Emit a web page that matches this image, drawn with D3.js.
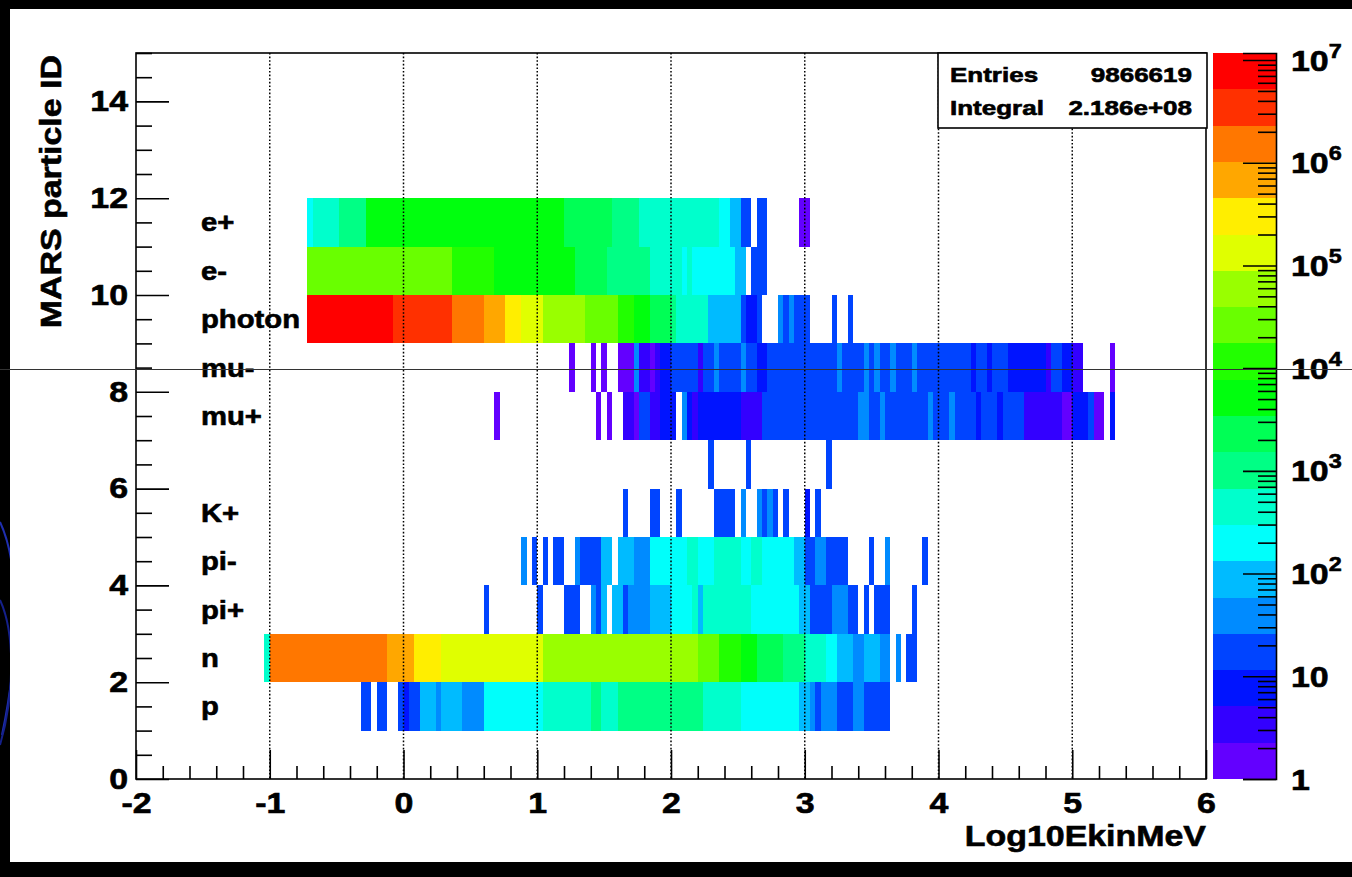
<!DOCTYPE html>
<html>
<head>
<meta charset="utf-8">
<script src="https://cdn.jsdelivr.net/npm/d3@7/dist/d3.min.js"></script>
<style>
  html, body { margin: 0; padding: 0; background: #000; overflow: hidden; }
  svg { display: block; }
  text { font-family: "Liberation Sans", Arial, Helvetica, sans-serif; font-weight: bold; fill: #000;
         stroke: #000; stroke-width: 0.6px; }
</style>
</head>
<body>
<svg id="chart" width="1352" height="877"></svg>
<script>
// MARS particle IDs (lower edge of each y bin) and the label printed on each row
const particleIds    = [1, 2, 3, 4, 5, 6, 7, 8, 9, 10, 11];
const particleLabels = ["p", "n", "pi+", "pi-", "K+", "", "mu+", "mu-", "photon", "e-", "e+"];

// Bin contents, one array per particle: runs of [log10 Ekin from, log10 Ekin to, entries per 0.04 bin]
const binsP = [[-0.32,-0.24,17],[-0.20,-0.12,18],[-0.04,0.00,16],[0.00,0.04,9],[0.04,0.12,19],[0.12,0.24,88],
  [0.24,0.28,40],[0.28,0.44,95],[0.44,0.60,42],[0.60,1.04,220],[1.04,1.40,430],[1.40,1.48,980],[1.48,1.60,460],
  [1.60,2.24,1050],[2.24,2.52,440],[2.52,2.96,230],[2.96,3.04,90],[3.04,3.08,40],[3.08,3.12,18],[3.12,3.24,38],
  [3.24,3.36,17],[3.36,3.44,41],[3.44,3.52,19],[3.52,3.64,16]];
const binsN = [[-1.04,-1.00,430],[-1.00,-0.12,1.6e6],[-0.12,0.08,7.2e5],[0.08,0.28,3.1e5],[0.28,1.04,1.35e5],
  [1.04,2.20,6.2e4],[2.20,2.36,2.7e4],[2.36,2.52,1.2e4],[2.52,2.64,5300],[2.64,2.84,2400],[2.84,3.00,1050],
  [3.00,3.16,460],[3.16,3.24,210],[3.24,3.36,92],[3.36,3.44,42],[3.44,3.56,85],[3.56,3.64,45],[3.68,3.72,40],
  [3.76,3.84,18]];
const binsPiPlus = [[0.60,0.64,17],[1.00,1.04,16],[1.20,1.32,18],[1.40,1.44,37],[1.44,1.48,18],[1.48,1.52,80],
  [1.56,1.64,85],[1.64,1.68,18],[1.68,1.84,40],[1.84,2.00,90],[2.00,2.16,210],[2.16,2.20,400],[2.20,2.24,100],
  [2.24,2.60,390],[2.60,2.96,220],[2.96,3.04,88],[3.04,3.20,18],[3.20,3.32,38],[3.32,3.40,17],[3.44,3.48,16],
  [3.52,3.64,19],[3.80,3.84,15]];
const binsPiMinus = [[0.88,0.92,40],[0.96,1.00,18],[1.04,1.08,17],[1.12,1.20,19],[1.28,1.32,42],[1.32,1.48,18],
  [1.48,1.56,85],[1.60,1.72,95],[1.72,1.84,40],[1.84,2.12,210],[2.12,2.20,420],[2.20,2.32,230],[2.32,2.52,380],
  [2.52,2.60,220],[2.60,2.68,360],[2.68,2.92,250],[2.92,3.00,90],[3.00,3.08,19],[3.08,3.16,38],[3.16,3.32,17],
  [3.48,3.52,16],[3.60,3.64,35],[3.88,3.92,15]];
const binsKPlus = [[1.64,1.68,18],[1.84,1.92,17],[2.04,2.08,19],[2.32,2.48,18],[2.52,2.56,40],[2.64,2.68,38],
  [2.68,2.72,18],[2.72,2.76,45],[2.76,2.80,20],[2.84,2.88,17],[3.00,3.04,9],[3.08,3.12,16]];
const binsId6 = [[2.28,2.32,17],[2.56,2.60,19],[3.16,3.20,16]];
const binsMuPlus = [[0.68,0.72,1],[1.44,1.48,1],[1.52,1.56,1],[1.64,1.72,3],[1.72,1.76,1],[1.76,1.84,17],
  [1.84,1.92,3],[1.92,2.04,8],[2.08,2.12,45],[2.12,2.16,8],[2.16,2.20,3],[2.20,2.52,9],[2.52,2.68,4],
  [2.68,3.40,16],[3.40,3.48,36],[3.48,3.56,18],[3.56,3.60,33],[3.60,3.92,17],[3.92,3.96,34],[3.96,4.08,19],
  [4.08,4.12,31],[4.12,4.28,18],[4.28,4.32,8],[4.32,4.44,16],[4.44,4.48,9],[4.48,4.64,15],[4.64,4.92,3],
  [4.92,5.00,1],[5.00,5.12,7],[5.12,5.16,14],[5.16,5.24,1],[5.28,5.32,6]];
const binsMuMinus = [[1.24,1.28,1],[1.40,1.44,1],[1.48,1.52,1],[1.60,1.72,1],[1.72,1.76,41],[1.76,1.84,3],
  [1.84,1.88,1],[1.88,1.92,3],[1.92,2.00,9],[2.00,2.20,18],[2.20,2.24,4],[2.24,2.32,21],[2.32,2.36,44],
  [2.36,2.52,17],[2.52,2.56,37],[2.56,2.64,22],[2.64,2.72,8],[2.72,3.24,19],[3.24,3.28,33],[3.28,3.44,20],
  [3.44,3.48,36],[3.48,3.52,18],[3.52,3.56,31],[3.56,3.64,17],[3.64,3.68,34],[3.68,3.80,19],[3.80,3.84,30],
  [3.84,4.24,16],[4.24,4.28,9],[4.28,4.36,15],[4.36,4.40,9],[4.40,4.52,14],[4.52,4.80,8],[4.80,4.84,3],
  [4.84,4.92,13],[4.92,5.00,7],[5.00,5.08,3],[5.28,5.32,1]];
const binsPhoton = [[-0.72,-0.08,8.1e6],[-0.08,0.36,3.6e6],[0.36,0.60,1.6e6],[0.60,0.76,7e5],[0.76,0.88,3.1e5],
  [0.88,1.04,1.4e5],[1.04,1.36,6e4],[1.36,1.60,2.7e4],[1.60,1.72,1.2e4],[1.72,1.84,5900],[1.84,2.00,2300],
  [2.00,2.04,1050],[2.04,2.28,470],[2.28,2.52,88],[2.52,2.56,20],[2.56,2.64,9],[2.64,2.68,16],[2.80,2.84,40],
  [2.84,2.88,18],[2.88,2.92,42],[2.92,3.04,17],[3.20,3.24,15],[3.32,3.36,14]];
const binsEMinus = [[-0.72,0.36,2.7e4],[0.36,0.68,1.3e4],[0.68,1.28,5600],[1.28,1.52,2500],[1.52,1.84,1100],
  [1.84,2.08,470],[2.08,2.12,260],[2.12,2.16,410],[2.16,2.40,240],[2.40,2.48,150],[2.48,2.56,92],[2.60,2.72,17]];
const binsEPlus = [[-0.72,-0.68,210],[-0.68,-0.48,430],[-0.48,-0.28,1100],[-0.28,1.20,5400],[1.20,1.56,2400],
  [1.56,1.76,980],[1.76,2.36,480],[2.36,2.44,230],[2.44,2.52,95],[2.52,2.60,19],[2.64,2.72,16],[2.96,3.04,1]];
const particleBins = [binsP, binsN, binsPiPlus, binsPiMinus, binsKPlus, binsId6, binsMuPlus, binsMuMinus,
  binsPhoton, binsEMinus, binsEPlus];

// Axes, colour axis and statistics box
const xTicks = [-2, -1, 0, 1, 2, 3, 4, 5, 6];
const yTicks = [0, 2, 4, 6, 8, 10, 12, 14];
const zDecades = [0, 1, 2, 3, 4, 5, 6, 7];
const zMax = 1.17e7;
const statsNames = ["Entries", "Integral"];
const statsValues = ["9866619", "2.186e+08"];
const xTitle = "Log10EkinMeV";
const yTitle = "MARS particle ID";

// 20-level violet-to-red colour palette
const paletteColours = ["#6300ff","#3300ff","#0014ff","#0044ff","#008bff","#00bbff","#00fffb","#00ffcc",
  "#00ff85","#00ff55","#00ff0e","#22ff00","#69ff00","#99ff00","#e0ff00","#ffee00","#ffa700","#ff7700",
  "#ff3000","#ff0000"];

const svg = d3.select("#chart");
const frame = { left: 136, top: 53, right: 1206, bottom: 779 };
const pal = { left: 1213, right: 1276 };

const x = d3.scaleLinear().domain([-2, 6]).range([frame.left, frame.right]);
const y = d3.scaleLinear().domain([0, 15]).range([frame.bottom, frame.top]);
const z = d3.scaleLog().domain([1, zMax]).range([frame.bottom, frame.top]);
const colour = d3.scaleQuantize().domain([0, Math.log10(zMax)]).range(paletteColours);

// wide Helvetica-like lettering: stretch each text along its own baseline
function widen(sel, sx) {
  sel.each(function () {
    const t = d3.select(this);
    const tx = +t.attr("x") || 0, ty = +t.attr("y") || 0;
    const prev = t.attr("transform") || "";
    t.attr("x", null).attr("y", null)
     .attr("transform", `${prev} translate(${tx},${ty}) scale(${sx},1)`.trim());
  });
}

// slide background, its blue swirl on the left edge, and the white canvas
svg.append("rect").attr("width", 1352).attr("height", 877).attr("fill", "#000");
const swirl = svg.append("g").attr("fill", "none").attr("stroke", "#1f2fb0").attr("stroke-width", 2);
swirl.append("path").attr("d", "M0,522 C18,560 22,640 2,735");
swirl.append("path").attr("d", "M0,600 C14,630 16,690 0,745").attr("stroke", "#15208a");
svg.append("rect").attr("x", 10).attr("y", 9).attr("width", 1342).attr("height", 853).attr("fill", "#fff");

// histogram cells
const cells = svg.append("g").attr("shape-rendering", "crispEdges");
particleIds.forEach((id, i) => {
  cells.selectAll(null).data(particleBins[i]).join("rect")
    .attr("x", d => x(d[0]))
    .attr("width", d => x(d[1]) - x(d[0]))
    .attr("y", y(id + 1))
    .attr("height", y(id) - y(id + 1))
    .attr("fill", d => colour(Math.log10(d[2])));
});

// dotted grid along x
svg.append("g").selectAll("line").data(xTicks.slice(1, -1)).join("line")
  .attr("x1", d => x(d)).attr("x2", d => x(d))
  .attr("y1", frame.top).attr("y2", frame.bottom)
  .attr("stroke", "#000").attr("stroke-width", 1.5).attr("stroke-dasharray", "1.6,2");

// particle names
svg.append("g").selectAll("text").data(particleIds).join("text")
  .attr("x", 201).attr("y", d => y(d + 0.5) + 9)
  .attr("font-size", 25)
  .text((d, i) => particleLabels[i])
  .call(widen, 1.17);

// frame
svg.append("rect").attr("x", frame.left).attr("y", frame.top)
  .attr("width", frame.right - frame.left).attr("height", frame.bottom - frame.top)
  .attr("fill", "none").attr("stroke", "#000").attr("stroke-width", 1.6);

// x axis: ticks point up into the frame
const xMinor = d3.range(-2, 6.001, 0.2).filter(v => Math.abs(v - Math.round(v)) > 1e-6);
svg.append("g").attr("transform", `translate(0,${frame.bottom})`)
  .call(d3.axisBottom(x).tickValues(xMinor).tickSize(-13).tickFormat(""))
  .call(g => g.select(".domain").remove())
  .call(g => g.selectAll("line").attr("stroke-width", 1.6));
const gx = svg.append("g").attr("transform", `translate(0,${frame.bottom})`)
  .call(d3.axisBottom(x).tickValues(xTicks).tickSize(-29).tickPadding(13).tickFormat(d3.format("d")))
  .call(g => g.select(".domain").remove())
  .call(g => g.selectAll("line").attr("stroke-width", 1.6));
gx.selectAll("text").attr("font-size", 29).attr("font-family", null).attr("fill", "#000")
  .text(d => d < 0 ? "-" + Math.abs(d) : d).call(widen, 1.17);

// y axis: ticks point right into the frame
const yMinor = d3.range(0, 15.001, 0.5).filter(v => v % 2 !== 0);
svg.append("g").attr("transform", `translate(${frame.left},0)`)
  .call(d3.axisLeft(y).tickValues(yMinor).tickSize(-16).tickFormat(""))
  .call(g => g.select(".domain").remove())
  .call(g => g.selectAll("line").attr("stroke-width", 1.6));
const gy = svg.append("g").attr("transform", `translate(${frame.left},0)`)
  .call(d3.axisLeft(y).tickValues(yTicks).tickSize(-33).tickPadding(8).tickFormat(d3.format("d")))
  .call(g => g.select(".domain").remove())
  .call(g => g.selectAll("line").attr("stroke-width", 1.6));
gy.selectAll("text").attr("font-size", 29).attr("font-family", null).attr("fill", "#000").call(widen, 1.17);

// axis titles
svg.append("text").attr("text-anchor", "end").attr("font-size", 29)
  .attr("transform", `translate(${frame.right},846) scale(1.17,1)`).text(xTitle);
svg.append("text").attr("text-anchor", "end").attr("font-size", 29)
  .attr("transform", `translate(61,55) rotate(-90) scale(1.17,1)`).text(yTitle);

// colour palette
svg.append("g").attr("shape-rendering", "crispEdges").selectAll("rect").data(paletteColours).join("rect")
  .attr("x", pal.left).attr("width", pal.right - pal.left)
  .attr("y", c => z(Math.pow(10, colour.invertExtent(c)[1])))
  .attr("height", c => z(Math.pow(10, colour.invertExtent(c)[0])) - z(Math.pow(10, colour.invertExtent(c)[1])))
  .attr("fill", c => c);

const zMinor = [];
zDecades.forEach(e => { for (let m = 2; m <= 9; m++) { const v = m * Math.pow(10, e); if (v <= zMax) zMinor.push(v); } });
svg.append("g").attr("transform", `translate(${pal.right},0)`)
  .call(d3.axisRight(z).tickValues(zMinor).tickSize(-18).tickFormat(""))
  .call(g => g.select(".domain").remove())
  .call(g => g.selectAll("line").attr("stroke-width", 1.6));
const gz = svg.append("g").attr("transform", `translate(${pal.right},0)`)
  .call(d3.axisRight(z).tickValues(zDecades.map(e => Math.pow(10, e))).tickSize(-33).tickFormat(""))
  .call(g => g.select(".domain").attr("stroke-width", 1.6))
  .call(g => g.selectAll("line").attr("stroke-width", 1.6));
gz.selectAll(".tick").each(function (v) {
  const e = Math.round(Math.log10(v));
  const t = d3.select(this).append("text").attr("x", 15).attr("y", 10).attr("font-size", 29);
  if (e === 0) t.text("1");
  else if (e === 1) t.text("10");
  else {
    t.append("tspan").text("10");
    t.append("tspan").attr("font-size", 20).attr("dy", -13).text(e);
  }
  widen(t, 1.17);
});

// statistics box
svg.append("rect").attr("x", 938).attr("y", frame.top).attr("width", 269).attr("height", 75)
  .attr("fill", "#fff").attr("stroke", "#000").attr("stroke-width", 1.6);
svg.append("g").selectAll("text").data(statsNames).join("text")
  .attr("x", 950).attr("y", (d, i) => 82 + i * 33).attr("font-size", 20).text(d => d).call(widen, 1.3);
svg.append("g").selectAll("text").data(statsValues).join("text")
  .attr("x", 1192).attr("y", (d, i) => 82 + i * 33).attr("font-size", 20).attr("text-anchor", "end")
  .text(d => d).call(widen, 1.3);

// thin rule running across the slide
svg.append("line").attr("x1", 0).attr("x2", 1352).attr("y1", 369.5).attr("y2", 369.5)
  .attr("stroke", "#333").attr("stroke-width", 1);
</script>
</body>
</html>
